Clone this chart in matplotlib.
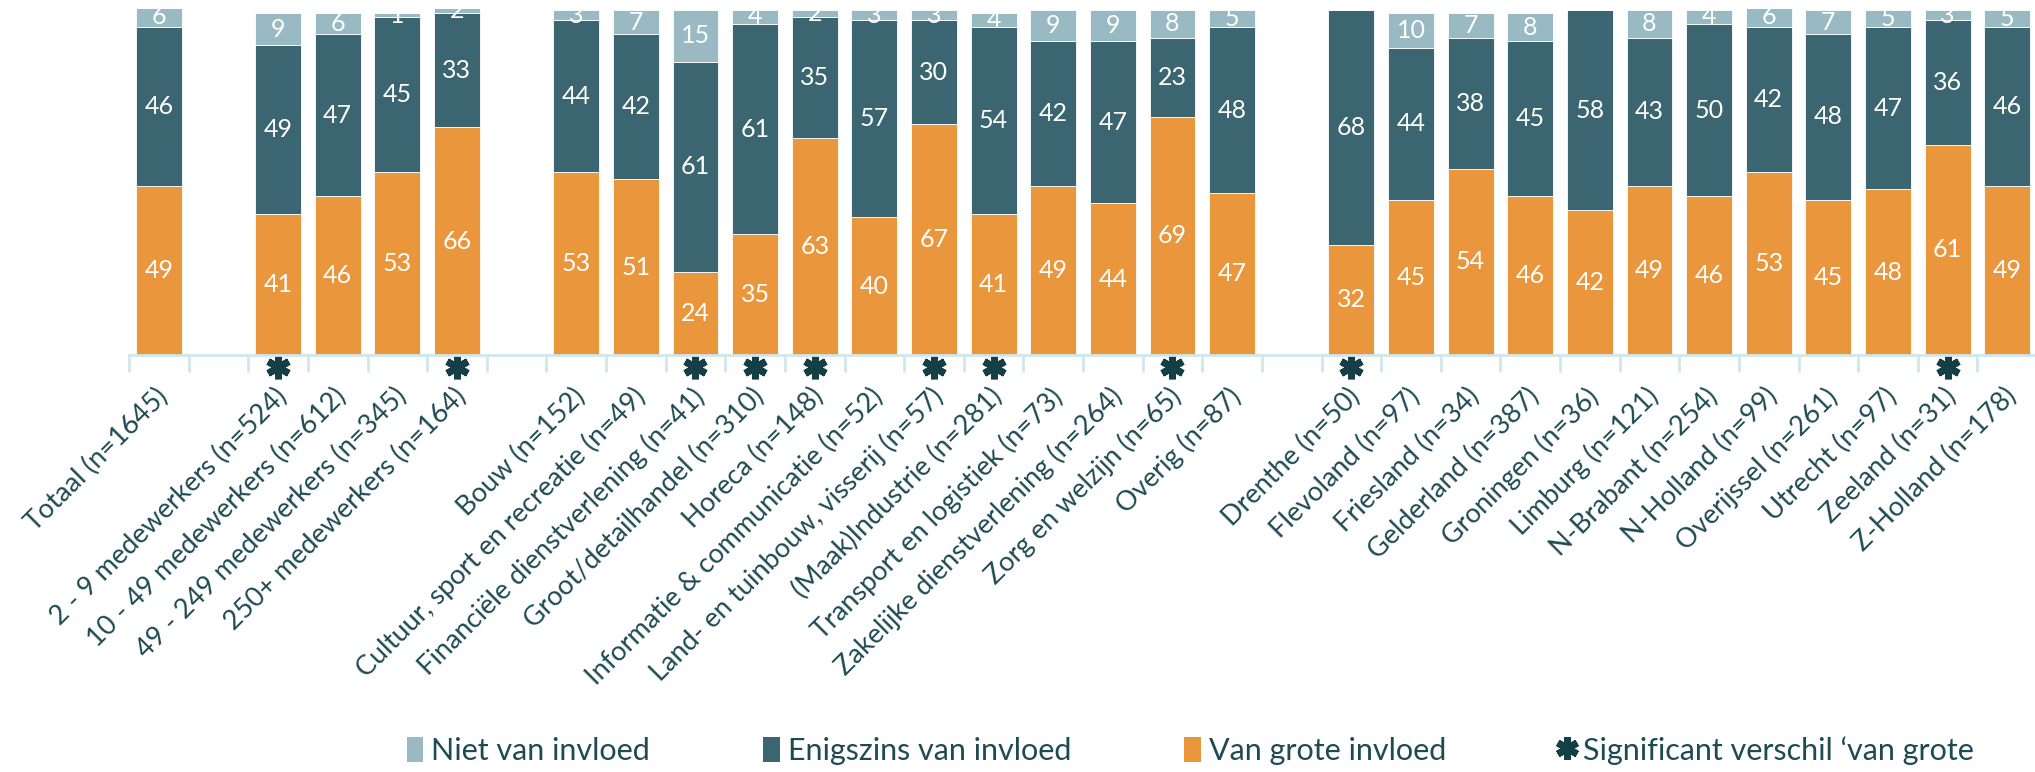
"""Stacked bar chart: invloed per grootteklasse, sector en provincie."""

import matplotlib.pyplot as plt
from matplotlib.lines import Line2D
from matplotlib.patches import Patch
from matplotlib.transforms import ScaledTranslation, blended_transform_factory

plt.rcParams["font.family"] = ["Lato", "DejaVu Sans"]

# empty strings are the gaps between the groups
categories = [
    "Totaal (n=1645)", "",
    "2 - 9 medewerkers (n=524)", "10 - 49 medewerkers (n=612)",
    "49 - 249 medewerkers (n=345)", "250+ medewerkers (n=164)", "",
    "Bouw (n=152)", "Cultuur, sport en recreatie (n=49)",
    "Financiële dienstverlening (n=41)", "Groot/detailhandel (n=310)",
    "Horeca (n=148)", "Informatie & communicatie (n=52)",
    "Land- en tuinbouw, visserij (n=57)", "(Maak)Industrie (n=281)",
    "Transport en logistiek (n=73)", "Zakelijke dienstverlening (n=264)",
    "Zorg en welzijn (n=65)", "Overig (n=87)", "",
    "Drenthe (n=50)", "Flevoland (n=97)", "Friesland (n=34)",
    "Gelderland (n=387)", "Groningen (n=36)", "Limburg (n=121)",
    "N-Brabant (n=254)", "N-Holland (n=99)", "Overijssel (n=261)",
    "Utrecht (n=97)", "Zeeland (n=31)", "Z-Holland (n=178)",
]
van_grote = [49, 0, 41, 46, 53, 66, 0, 53, 51, 24, 35, 63, 40, 67, 41, 49, 44,
             69, 47, 0, 32, 45, 54, 46, 42, 49, 46, 53, 45, 48, 61, 49]
enigszins = [46, 0, 49, 47, 45, 33, 0, 44, 42, 61, 61, 35, 57, 30, 54, 42, 47,
             23, 48, 0, 68, 44, 38, 45, 58, 43, 50, 42, 48, 47, 36, 46]
niet = [6, 0, 9, 6, 1, 2, 0, 3, 7, 15, 4, 2, 3, 3, 4, 9, 9,
        8, 5, 0, 0, 10, 7, 8, 0, 8, 4, 6, 7, 5, 3, 5]
significant = [0, 0, 1, 0, 0, 1, 0, 0, 0, 1, 1, 1, 0, 1, 1, 0, 0,
               1, 0, 0, 1, 0, 0, 0, 0, 0, 0, 0, 0, 0, 1, 0]

series_names = ["Niet van invloed", "Enigszins van invloed", "Van grote invloed"]
sig_label = "Significant verschil ‘van grote"

C_LIGHT = "#99BAC2"
C_DARK = "#3B6570"
C_ORANGE = "#E9963D"
C_TEXT = "#1E4A53"
C_STAR = "#153F46"
C_AXIS = "#CFE7ED"

fig = plt.figure(figsize=(20.35, 7.72), dpi=100)
ax = fig.add_axes([0.0634, 1 - 355 / 772, 0.9376, 346 / 772])

x = list(range(len(categories)))
bottom2 = van_grote
bottom3 = [a + b for a, b in zip(van_grote, enigszins)]
w = 0.77
ax.bar(x, van_grote, width=w, color=C_ORANGE, edgecolor="white", linewidth=0.6)
ax.bar(x, enigszins, width=w, bottom=bottom2, color=C_DARK, edgecolor="white", linewidth=0.6)
ax.bar(x, niet, width=w, bottom=bottom3, color=C_LIGHT, edgecolor="white", linewidth=0.6)

for i in x:
    for val, base in ((van_grote[i], 0), (enigszins[i], bottom2[i]), (niet[i], bottom3[i])):
        if val > 0:
            ax.text(i, base + val / 2, str(val), ha="center", va="center",
                    color="white", fontsize=18, clip_on=True)

ax.set_xlim(-0.5, 31.5)
ax.set_ylim(0, 100.3)
ax.set_yticks([])
for s in ("left", "right", "top"):
    ax.spines[s].set_visible(False)
ax.spines["bottom"].set_color(C_AXIS)
ax.spines["bottom"].set_linewidth(2)

ax.set_xticks(x)
ax.set_xticklabels(categories, rotation=45, ha="right", va="center",
                   rotation_mode="anchor", color=C_TEXT, fontsize=19.5)
ax.tick_params(axis="x", which="major", length=0, pad=27)
shift = ScaledTranslation(5 / 100, 0, fig.dpi_scale_trans)
for lbl in ax.get_xticklabels():
    lbl.set_transform(lbl.get_transform() + shift)
ax.set_xticks([i - 0.5 for i in range(len(categories) + 1)], minor=True)
ax.tick_params(axis="x", which="minor", length=12, width=2, color=C_AXIS)

# significance stars under the axis
trans = blended_transform_factory(ax.transData, ax.transAxes)
sx = [i for i, s in zip(x, significant) if s]
ax.plot(sx, [-0.036] * len(sx), linestyle="none", marker=(6, 2, 0),
        markersize=17, markeredgewidth=5, color=C_STAR,
        transform=trans, clip_on=False)

handles = [
    Patch(facecolor=C_LIGHT, edgecolor="none"),
    Patch(facecolor=C_DARK, edgecolor="none"),
    Patch(facecolor=C_ORANGE, edgecolor="none"),
    Line2D([], [], linestyle="none", marker=(6, 2, 0), markersize=16,
           markeredgewidth=5, color=C_STAR),
]
fig.legend(handles, series_names + [sig_label], loc="center",
           bbox_to_anchor=(0.585, 0.028), ncol=4, frameon=False,
           fontsize=22, labelcolor=C_TEXT, handlelength=0.55, handleheight=0.9,
           handletextpad=0.25, columnspacing=3.7)

fig.savefig("out.png", dpi=100, facecolor="white")
